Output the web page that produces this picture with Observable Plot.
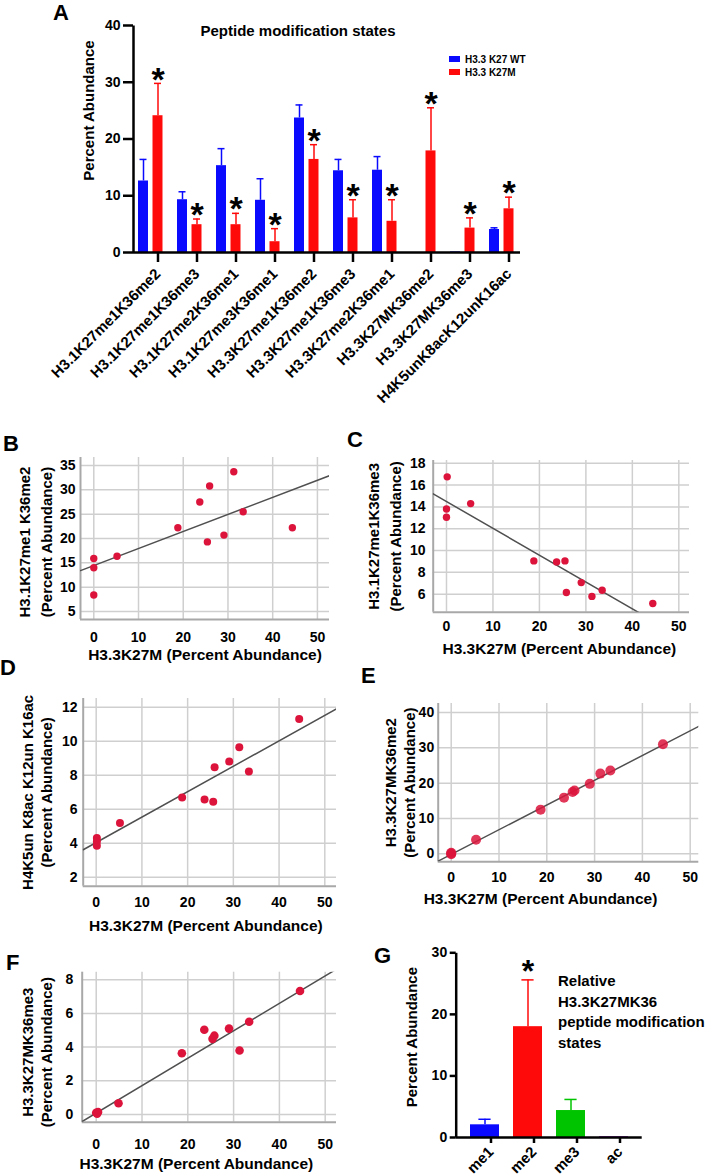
<!DOCTYPE html>
<html>
<head>
<meta charset="utf-8">
<script src="https://cdn.jsdelivr.net/npm/d3@7"></script>
<script src="https://cdn.jsdelivr.net/npm/@observablehq/plot@0.6"></script>
<style>
  html, body { margin: 0; padding: 0; background: #fff; }
  #root { position: relative; width: 709px; height: 1176px; overflow: hidden;
          font-family: "Liberation Sans", Arial, sans-serif; font-weight: bold; color: #000; }
  .letter { position: absolute; font-size: 22px; line-height: 1.15; font-weight: bold; }
  .legend { position: absolute; font-size: 10px; line-height: 13.2px; white-space: nowrap; }
  .legend .sw { display: inline-block; width: 11px; height: 6px; margin-right: 5px; vertical-align: 1px; }
  .note { position: absolute; font-size: 15px; line-height: 20.5px; white-space: nowrap; }
</style>
</head>
<body>
<div id="root"></div>
<script>
// ---------------- DATA ----------------
// Panel A
const categoriesA = ["H3.1K27me1K36me2","H3.1K27me1K36me3","H3.1K27me2K36me1","H3.1K27me3K36me1",
  "H3.3K27me1K36me2","H3.3K27me1K36me3","H3.3K27me2K36me1","H3.3K27MK36me2","H3.3K27MK36me3","H4K5unK8acK12unK16ac"];
const wtMean   = [12.6, 9.3, 15.3, 9.2, 23.7, 14.4, 14.5, 0, 0.1, 4.05];
const wtErr    = [3.8, 1.4, 3.0, 3.8, 2.3, 2.0, 2.4, 0, 0, 0.3];
const k27mMean = [24.1, 4.9, 4.9, 1.9, 16.4, 6.1, 5.5, 17.9, 4.3, 7.7];
const k27mErr  = [5.7, 1.0, 2.0, 2.3, 2.6, 3.2, 3.8, 7.6, 1.8, 2.05];
const k27mStar = [true, true, true, true, true, true, true, true, true, true];
const legendLabels = ["H3.3 K27 WT", "H3.3 K27M"];
const titleA = "Peptide modification states";
const yTicksA = [0, 10, 20, 30, 40];

// Scatter panels: x = H3.3K27M percent abundance
const xTicksScatter = [0, 10, 20, 30, 40, 50];
const xTitleScatter = "H3.3K27M (Percent Abundance)";
const bX = [0, 0, 0, 5.2, 18.8, 23.7, 25.9, 25.4, 29.1, 31.3, 33.4, 44.4];
const bY = [15.9, 14.0, 8.4, 16.35, 22.2, 27.5, 30.8, 19.3, 20.7, 33.7, 25.5, 22.2];
const bFit = [14.45, 0.35];           // intercept, slope
const bYTicks = [5, 10, 15, 20, 25, 30, 35];
const cX = [0.15, 0, 0, 5.2, 18.8, 23.7, 25.5, 25.8, 29.0, 31.3, 33.5, 44.4];
const cY = [16.75, 13.8, 13.05, 14.3, 9.05, 8.96, 9.05, 6.15, 7.06, 5.8, 6.36, 5.15];
const cFit = [14.49, -0.2458];
const cYTicks = [6, 8, 10, 12, 14, 16, 18];
const dX = [0.15, 0.15, 0.15, 5.2, 18.8, 23.7, 25.6, 25.9, 29.1, 31.3, 33.4, 44.4];
const dY = [4.3, 4.1, 3.85, 5.18, 6.69, 6.57, 6.43, 8.47, 8.8, 9.65, 8.22, 11.3];
const dFit = [4.04, 0.1495];
const dYTicks = [2, 4, 6, 8, 10, 12];
const eX = [0, 0, 0, 5.2, 18.7, 23.6, 25.4, 25.8, 29.0, 31.2, 33.3, 44.3];
const eY = [0.3, 0.1, -0.1, 4.0, 12.5, 15.9, 17.5, 17.9, 19.8, 22.7, 23.6, 31.0];
const eFit = [-0.17, 0.70];
const eYTicks = [0, 10, 20, 30, 40];
const fX = [0, 0.2, 0.4, 4.87, 18.7, 23.6, 25.4, 25.8, 29.0, 31.3, 33.4, 44.5];
const fY = [0.1, 0.05, 0.15, 0.67, 3.64, 5.03, 4.49, 4.68, 5.1, 3.8, 5.51, 7.33];
const fFit = [0.08, 0.163];
const fYTicks = [0, 2, 4, 6, 8];

// Panel G
const categoriesG = ["me1", "me2", "me3", "ac"];
const gMean = [2.06, 18.0, 4.38, 0.15];
const gErr  = [0.9, 7.6, 1.8, 0];
const gStar = [false, true, false, false];
const gNote = ["Relative", "H3.3K27MK36", "peptide modification", "states"];
const yTicksG = [0, 10, 20, 30];

// ---------------- STYLE ----------------
const FONT = '"Liberation Sans", Arial, sans-serif';
const BLUE = "#0a0aff", RED = "#ff0a0a", GREEN = "#00c400", PURPLE = "#a030d0";
const DOT = "#dc143c", GRID = "#cfcfcf", AXISGRAY = "#a8a8a8", FITC = "#505050";
const baseStyle = {fontFamily: FONT, fontWeight: "bold", color: "#000", background: "transparent", overflow: "visible"};

const root = document.getElementById("root");
function place(node, left, top) {
  node.style.position = "absolute"; node.style.left = left + "px"; node.style.top = top + "px";
  root.appendChild(node);
  return node;
}
function letter(t, left, top) {
  const d = document.createElement("div"); d.className = "letter"; d.textContent = t;
  place(d, left, top);
}
function yTitle(t, dx, dy) {
  return Plot.text([t], {frameAnchor: "left", rotate: -90, textAnchor: "middle", lineAnchor: "middle",
    dx, dy, fontSize: 15, text: d => d});
}

// ---------------- PANEL A ----------------
{
  const W = 530, H = 400, ml = 133, mr = 10, mt = 25, mb = 148;
  const fw = W - ml - mr, fh = H - mt - mb;
  const wt = categoriesA.map((c, i) => ({cat: c, v: wtMean[i], e: wtErr[i]}));
  const mu = categoriesA.map((c, i) => ({cat: c, v: k27mMean[i], e: k27mErr[i], star: k27mStar[i]}));
  const A = Plot.plot({
    width: W, height: H, marginLeft: ml, marginRight: mr, marginTop: mt, marginBottom: mb,
    style: baseStyle,
    x: {domain: categoriesA, range: [129.5, 519.5], padding: 0},
    y: {domain: [0, 40]},
    marks: [
      Plot.barY(wt, {x: "cat", y: "v", fill: BLUE, insetLeft: 8, insetRight: 21}),
      Plot.barY(mu, {x: "cat", y: "v", fill: RED, insetLeft: 22.5, insetRight: 6.5}),
      Plot.ruleX(wt.filter(d => d.e > 0), {x: "cat", y1: "v", y2: d => d.v + d.e, dx: -6.5, stroke: BLUE, strokeWidth: 1.5}),
      Plot.tickY(wt.filter(d => d.e > 0), {x: "cat", y: d => d.v + d.e, stroke: BLUE, strokeWidth: 1.5, insetLeft: 9.5, insetRight: 22.5}),
      Plot.ruleX(mu.filter(d => d.e > 0), {x: "cat", y1: "v", y2: d => d.v + d.e, dx: 8, stroke: RED, strokeWidth: 1.5}),
      Plot.tickY(mu.filter(d => d.e > 0), {x: "cat", y: d => d.v + d.e, stroke: RED, strokeWidth: 1.5, insetLeft: 24, insetRight: 8}),
      Plot.text(mu.filter(d => d.star), {x: "cat", y: d => d.v + d.e, text: () => "*", dx: 8, dy: -17, lineAnchor: "top", fontSize: 34}),
      Plot.frame({stroke: "#000", strokeWidth: 2.5, strokeDasharray: `0 ${2 * fw + fh} ${fh}`}),
      Plot.ruleY([0], {stroke: "#000", strokeWidth: 2.5}),
      Plot.axisY(yTicksA, {tickSize: 10, tickPadding: 3, strokeWidth: 2.5, fontSize: 14, label: null}),
      Plot.axisX({tickSize: 10, tickPadding: 9, dx: 8, tickRotate: -45, strokeWidth: 2.5, fontSize: 15, label: null}),
      Plot.text([titleA], {frameAnchor: "top-left", dx: 67, dy: 0, lineAnchor: "top", textAnchor: "start", fontSize: 15, text: d => d}),
      yTitle("Percent Abundance", -44, -28.5)
    ]
  });
  place(A, 0, 0);
  const lg = document.createElement("div"); lg.className = "legend";
  [BLUE, RED].forEach((c, i) => {
    const row = document.createElement("div");
    const sw = document.createElement("span"); sw.className = "sw"; sw.style.background = c;
    row.appendChild(sw); row.appendChild(document.createTextNode(legendLabels[i]));
    lg.appendChild(row);
  });
  place(lg, 449, 53);
}

// ---------------- SCATTER PANELS ----------------
function scatter(cfg) {
  const pts = cfg.xs.map((x, i) => ({x, y: cfg.ys[i]}));
  const [x0, x1] = cfg.xDomain;
  const fitLine = [x0, x1].map(x => ({x, y: cfg.fit[0] + cfg.fit[1] * x}));
  return Plot.plot({
    width: cfg.w, height: cfg.h, marginLeft: cfg.ml, marginRight: cfg.mr, marginTop: cfg.mt, marginBottom: cfg.mb,
    style: baseStyle,
    x: {domain: cfg.xDomain},
    y: {domain: cfg.yDomain},
    marks: [
      Plot.gridX(xTicksScatter, {stroke: GRID, strokeOpacity: 1, strokeWidth: 1.5}),
      Plot.gridY(cfg.yTicks, {stroke: GRID, strokeOpacity: 1, strokeWidth: 1.5}),
      Plot.ruleX([x0], {stroke: AXISGRAY, strokeWidth: 2}),
      Plot.ruleY([cfg.yDomain[0]], {stroke: AXISGRAY, strokeWidth: 2}),
      Plot.line(fitLine, {x: "x", y: "y", stroke: FITC, strokeWidth: 1.5, clip: true}),
      Plot.dot(pts, {x: "x", y: "y", r: cfg.r, fill: DOT, fillOpacity: cfg.op ?? 1}),
      Plot.axisX(xTicksScatter, {tickSize: 0, tickPadding: cfg.xpad, fontSize: 14, label: null}),
      Plot.axisY(cfg.yTicks, {tickSize: 0, tickPadding: cfg.ypad, fontSize: 14, label: null}),
      Plot.text([xTitleScatter], {frameAnchor: "bottom", lineAnchor: "middle", textAnchor: "middle",
        dy: cfg.xtDy, dx: cfg.xtDx, fontSize: 15.5, text: d => d}),
      yTitle(cfg.yt1, cfg.yt1dx, cfg.ytdy),
      yTitle("(Percent Abundance)", cfg.yt2dx, cfg.ytdy)
    ]
  });
}

place(scatter({xs: bX, ys: bY, fit: bFit, yTicks: bYTicks, w: 340, h: 265, ml: 80, mr: 11, mt: 57, mb: 46,
  xDomain: [-2.97, 52.7], yDomain: [3.36, 36.64], xpad: 13, ypad: 5, xtDy: 36, xtDx: 0,
  yt1: "H3.1K27me1 K36me2", yt1dx: -55, yt2dx: -33, ytdy: 3.5, r: 3.7}), 0, 400);

place(scatter({xs: cX, ys: cY, fit: cFit, yTicks: cYTicks, w: 354, h: 260, ml: 77.7, mr: 20, mt: 60, mb: 48.3,
  xDomain: [-2.86, 52.3], yDomain: [4.35, 18.25], xpad: 9.3, ypad: 7.7, xtDy: 36.6, xtDx: -2,
  yt1: "H3.1K27me1K36me3", yt1dx: -58.7, yt2dx: -36.7, ytdy: 0, r: 3.7}), 355, 400);

place(scatter({xs: dX, ys: dY, fit: dFit, yTicks: dYTicks, w: 345, h: 275, ml: 82.7, mr: 9, mt: 33, mb: 54.3,
  xDomain: [-2.84, 52.56], yDomain: [1.47, 12.51], xpad: 11, ypad: 5.7, xtDy: 40.3, xtDx: -4,
  yt1: "H4K5un K8ac K12un K16ac", yt1dx: -55, yt2dx: -36, ytdy: 0, r: 4}), 0, 665);

place(scatter({xs: eX, ys: eY, fit: eFit, yTicks: eYTicks, w: 354, h: 255, ml: 82.7, mr: 10.7, mt: 43, mb: 53.7,
  xDomain: [-2.72, 51.8], yDomain: [-2.26, 42.55], xpad: 10.2, ypad: 4, xtDy: 37.2, xtDx: -28,
  yt1: "H3.3K27MK36me2", yt1dx: -47, yt2dx: -28, ytdy: 0, r: 5, op: 0.85}), 355, 660);

place(scatter({xs: fX, ys: fY, fit: fFit, yTicks: fYTicks, w: 345, h: 231, ml: 81.7, mr: 9, mt: 26.7, mb: 54.3,
  xDomain: [-3.06, 52.47], yDomain: [-0.46, 8.45], xpad: 17.3, ypad: 9, xtDy: 41.6, xtDx: -13,
  yt1: "H3.3K27MK36me3", yt1dx: -54, yt2dx: -35, ytdy: 5, r: 4.3}), 0, 945);

// ---------------- PANEL G ----------------
{
  const W = 354, H = 236, ml = 100.7, mr = 67.3, mt = 12.3, mb = 39;
  const fw = W - ml - mr, fh = H - mt - mb;
  const colorsG = [BLUE, RED, GREEN, PURPLE];
  const rows = categoriesG.map((c, i) => ({cat: c, v: gMean[i], e: gErr[i], star: gStar[i], col: colorsG[i]}));
  const G = Plot.plot({
    width: W, height: H, marginLeft: ml, marginRight: mr, marginTop: mt, marginBottom: mb,
    style: baseStyle,
    x: {domain: categoriesG, range: [107.5, 279.5], paddingInner: 0.33, paddingOuter: 0.165},
    y: {domain: [0, 30]},
    marks: [
      Plot.barY(rows, {x: "cat", y: "v", fill: "col"}),
      Plot.ruleX(rows.filter(d => d.e > 0), {x: "cat", y1: "v", y2: d => d.v + d.e, stroke: "col", strokeWidth: 1.5}),
      Plot.tickY(rows.filter(d => d.e > 0), {x: "cat", y: d => d.v + d.e, stroke: "col", strokeWidth: 1.5, insetLeft: 8.4, insetRight: 8.4}),
      Plot.text(rows.filter(d => d.star), {x: "cat", y: d => d.v + d.e, text: () => "*", dy: -21, lineAnchor: "top", fontSize: 32}),
      Plot.frame({stroke: "#000", strokeWidth: 2.5, strokeDasharray: `0 ${2 * fw + fh} ${fh}`}),
      Plot.ruleY([0], {stroke: "#000", strokeWidth: 2.5}),
      Plot.axisY(yTicksG, {tickSize: 6, tickPadding: 3, strokeWidth: 2.5, fontSize: 14, label: null}),
      Plot.axisX({tickSize: 6, tickPadding: 6, dx: 6, tickRotate: -45, strokeWidth: 2.5, fontSize: 15, label: null}),
      yTitle("Percent Abundance", -44, -8)
    ]
  });
  place(G, 355, 940);
  const note = document.createElement("div"); note.className = "note";
  note.innerHTML = gNote.map(s => s.replace(/&/g, "&amp;")).join("<br>");
  place(note, 558, 971.4);
}

// ---------------- PANEL LETTERS ----------------
letter("A", 53, 0);
letter("B", 3, 431);
letter("C", 347, 427);
letter("D", 0, 655);
letter("E", 361, 663);
letter("F", 6, 950);
letter("G", 374, 943);
</script>
</body>
</html>
